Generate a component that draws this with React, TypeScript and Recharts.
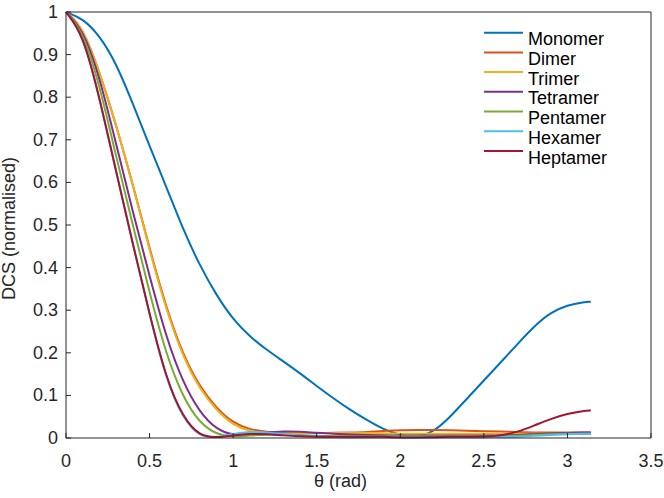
import { LineChart, Line, XAxis, YAxis, ReferenceLine, Legend } from "recharts";

const theta = [
  0, 0.1, 0.2, 0.3, 0.4, 0.5, 0.6, 0.7, 0.8, 0.9, 1.0, 1.1, 1.2, 1.3, 1.4, 1.5, 1.6,
  1.7, 1.8, 1.9, 2.0, 2.1, 2.2, 2.3, 2.4, 2.5, 2.6, 2.7, 2.8, 2.9, 3.0, 3.1, 3.14,
];

const monomer = [
  1, 0.985, 0.945, 0.88, 0.785, 0.685, 0.59, 0.49, 0.405, 0.335, 0.278, 0.238, 0.207,
  0.18, 0.152, 0.122, 0.093, 0.066, 0.042, 0.02, 0.006, 0.002, 0.014, 0.05, 0.093,
  0.135, 0.177, 0.22, 0.262, 0.295, 0.312, 0.319, 0.32,
];
const dimer = [
  1, 0.965, 0.86, 0.735, 0.595, 0.445, 0.305, 0.195, 0.12, 0.07, 0.035, 0.02, 0.014,
  0.012, 0.012, 0.012, 0.012, 0.013, 0.014, 0.017, 0.018, 0.019, 0.019, 0.018, 0.017,
  0.016, 0.015, 0.014, 0.013, 0.013, 0.013, 0.013, 0.013,
];
const trimer = [
  1, 0.965, 0.86, 0.735, 0.595, 0.44, 0.3, 0.19, 0.115, 0.065, 0.03, 0.015, 0.012,
  0.011, 0.012, 0.012, 0.012, 0.012, 0.012, 0.011, 0.01, 0.01, 0.01, 0.01, 0.01, 0.01,
  0.01, 0.01, 0.01, 0.01, 0.01, 0.01, 0.01,
];
const tetramer = [
  1, 0.96, 0.85, 0.69, 0.53, 0.38, 0.235, 0.13, 0.06, 0.02, 0.006, 0.008, 0.013,
  0.016, 0.015, 0.012, 0.01, 0.008, 0.007, 0.006, 0.006, 0.006, 0.006, 0.006, 0.006,
  0.006, 0.006, 0.007, 0.009, 0.011, 0.012, 0.013, 0.013,
];
const pentamer = [
  1, 0.955, 0.83, 0.66, 0.5, 0.34, 0.195, 0.095, 0.035, 0.008, 0.003, 0.006, 0.008,
  0.008, 0.007, 0.005, 0.004, 0.004, 0.004, 0.004, 0.004, 0.004, 0.004, 0.004, 0.004,
  0.004, 0.004, 0.005, 0.007, 0.009, 0.01, 0.01, 0.01,
];
const hexamer = [
  1, 0.95, 0.8, 0.625, 0.455, 0.29, 0.135, 0.045, 0.002, 0.001, 0.01, 0.015, 0.013,
  0.009, 0.006, 0.004, 0.002, 0.002, 0.002, 0.002, 0.002, 0.002, 0.002, 0.002, 0.002,
  0.002, 0.002, 0.003, 0.005, 0.007, 0.009, 0.01, 0.01,
];
const heptamer = [
  1, 0.95, 0.8, 0.625, 0.455, 0.29, 0.138, 0.048, 0.004, 0.001, 0.006, 0.01, 0.009,
  0.006, 0.004, 0.003, 0.003, 0.003, 0.003, 0.003, 0.001, 0.001, 0.002, 0.003, 0.003,
  0.003, 0.005, 0.014, 0.029, 0.045, 0.057, 0.064, 0.065,
];

const seriesNames = ["Monomer", "Dimer", "Trimer", "Tetramer", "Pentamer", "Hexamer", "Heptamer"];
const seriesValues = [monomer, dimer, trimer, tetramer, pentamer, hexamer, heptamer];
const colors = ["#0072BD", "#D95319", "#EDB120", "#7E2F8E", "#77AC30", "#4DBEEE", "#A2142F"];

const xTicks = [0, 0.5, 1, 1.5, 2, 2.5, 3, 3.5];
const yTicks = [0, 0.1, 0.2, 0.3, 0.4, 0.5, 0.6, 0.7, 0.8, 0.9, 1];

const data = theta.map((t, i) => {
  const row: Record<string, number> = { theta: t };
  seriesNames.forEach((n, k) => {
    row[n] = seriesValues[k][i];
  });
  return row;
});

const FONT = "'Liberation Sans', Arial, Helvetica, sans-serif";
const INK = "#262626";
const FS = 18;

const XTick = (props: any) => {
  const { x, y, payload } = props;
  return (
    <g>
      <line x1={x} y1={y} x2={x} y2={y - 5} stroke={INK} strokeWidth={1} />
      <text x={x} y={y + 23} textAnchor="middle" dominantBaseline="central" fontSize={FS} fontFamily={FONT} fill={INK}>
        {String(payload.value)}
      </text>
    </g>
  );
};

const YTick = (props: any) => {
  const { x, y, payload } = props;
  return (
    <g>
      <line x1={x} y1={y} x2={x + 5} y2={y} stroke={INK} strokeWidth={1} />
      <text x={x - 8} y={y} textAnchor="end" dominantBaseline="central" fontSize={FS} fontFamily={FONT} fill={INK}>
        {String(payload.value)}
      </text>
    </g>
  );
};

// legend drawn in the original series order (recharts sorts its payload by name)
const LegendBox = () => (
  <svg width={150} height={150} style={{ display: "block" }}>
    {seriesNames.map((n, i) => {
      const y = 12.7 + i * 19.7;
      return (
        <g key={n}>
          <line x1={4} y1={y} x2={43} y2={y} stroke={colors[i]} strokeWidth={2} />
          <text x={48} y={y + 6.6} dominantBaseline="central" fontSize={FS} fontFamily={FONT} fill="#000">
            {n}
          </text>
        </g>
      );
    })}
  </svg>
);

export default function App() {
  return (
    <div style={{ position: "absolute", left: 0, top: 0, width: 664, height: 498, background: "#fff" }}>
      <LineChart width={664} height={498} data={data} margin={{ top: 12, right: 13, bottom: 0, left: 0 }}>
        <XAxis
          type="number"
          dataKey="theta"
          domain={[0, 3.5]}
          ticks={xTicks}
          height={60}
          tickSize={0}
          tickMargin={0}
          tickLine={false}
          tick={<XTick />}
          axisLine={{ stroke: INK, strokeWidth: 1 }}
          label={{ value: "θ (rad)", position: "insideBottom", dx: -18, dy: -6, fontSize: FS, fontFamily: FONT, fill: INK }}
        />
        <YAxis
          type="number"
          domain={[0, 1]}
          ticks={yTicks}
          width={66}
          tickSize={0}
          tickMargin={0}
          tickLine={false}
          tick={<YTick />}
          axisLine={{ stroke: INK, strokeWidth: 1 }}
          label={{ value: "DCS (normalised)", angle: -90, position: "insideLeft", dx: 4, dy: 75, fontSize: FS, fontFamily: FONT, fill: INK }}
        />
        <ReferenceLine y={1} stroke={INK} strokeWidth={1} />
        <ReferenceLine x={3.5} stroke={INK} strokeWidth={1} />
        {seriesNames.map((n, k) => (
          <Line
            key={n}
            type="basis"
            dataKey={n}
            name={n}
            stroke={colors[k]}
            strokeWidth={2}
            dot={false}
            activeDot={false}
            isAnimationActive={false}
          />
        ))}
        <Legend
          layout="vertical"
          align="center"
          verticalAlign="middle"
          content={<LegendBox />}
          wrapperStyle={{ left: 480, top: 20, width: 150, height: 150 }}
        />
      </LineChart>
    </div>
  );
}
